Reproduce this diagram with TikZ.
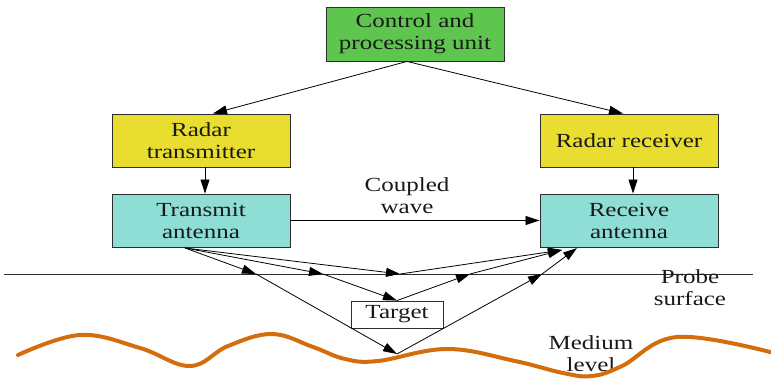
\documentclass[tikz,border=0pt]{standalone}
\usepackage{fontspec}
\setmainfont{Liberation Serif}[FakeStretch=1.25]
\usetikzlibrary{arrows.meta}
\definecolor{ctrlgreen}{RGB}{94,198,78}
\definecolor{unityellow}{RGB}{233,222,48}
\definecolor{antcyan}{RGB}{143,222,214}
\definecolor{mediumorange}{RGB}{212,110,12}
\definecolor{inkgray}{RGB}{45,45,45}
\begin{document}
\begin{tikzpicture}[x=1pt,y=-1pt,
  txt/.style={font=\fontsize{20}{22}\selectfont, text=black!90},
  box/.style={txt, draw=inkgray, line width=0.9pt, minimum width=178pt,
    minimum height=53pt, inner sep=0pt, align=center},
  lbl/.style={txt, align=center, inner sep=0pt},
  link/.style={draw=black, line width=0.8pt, -{Triangle[length=14pt,width=9pt]}}
]
\useasboundingbox (0,0) rectangle (771,379);

% blocks
\node[box, fill=ctrlgreen, minimum height=54pt] (ctrl) at (415,34) {Control and\\processing unit};
\node[box, fill=unityellow] (tx)  at (201,140.5) {Radar\\transmitter};
\node[box, fill=antcyan]    (txa) at (201,220.5) {Transmit\\antenna};
\node[box, fill=unityellow] (rx)  at (629,140.5) {Radar receiver};
\node[box, fill=antcyan]    (rxa) at (629,220.5) {Receive\\antenna};

% control links
\draw[link] ([xshift=-8pt]ctrl.south) -- ([xshift=12pt]tx.north);
\draw[link] ([xshift=-8pt]ctrl.south) -- ([xshift=-6pt]rx.north);
\draw[link] ([xshift=4pt]tx.south) -- ([xshift=4pt]txa.north);
\draw[link] ([xshift=4pt]rx.south) -- ([xshift=4pt]rxa.north);

% direct coupling
\draw[link] (txa.east) -- (rxa.west);
\node[lbl] (coupled) at (407,196) {Coupled\\wave};

% probe surface
\coordinate (pl) at (4,274);
\coordinate (pr) at (753,274);
\draw[inkgray, line width=0.9pt] (pl) -- (pr);
\node[lbl] (probe) at (690,287.5) {Probe\\surface};

% target
\node[txt, draw=inkgray, fill=white, line width=0.9pt, minimum width=92pt,
  minimum height=27pt, inner sep=0pt] (target) at (397,314.5) {Target};

% ray points
\coordinate (o)  at (185,248);
\coordinate (s1) at (256,274);
\coordinate (s2) at (323,274);
\coordinate (s0) at (400,274);
\coordinate (s3) at (470,274);
\coordinate (s4) at (542,274);
\coordinate (m)  at (397,354);
\coordinate (r1) at (577,248);
\coordinate (r2) at (562,250);

% wave paths
\draw[link] (o) -- (s1);
\draw[link] (s1) -- (m);
\draw[link] (m) -- (s4);
\draw[link] (s4) -- (r1);
\draw[link] (o) -- (s2);
\draw[link] (s2) -- (target.north);
\draw[link] (target.north) -- (s3);
\draw[link] (s3) -- (r2);
\draw[link] (o) -- (s0);
\draw[link] (s0) -- (r2);

% medium
\node[lbl] (medium) at (591,354) {Medium\\level};
\draw[mediumorange, line width=4pt, line cap=round]
  plot[smooth, tension=0.65] coordinates {(18,355) (80,335) (140,348) (190,366)
   (228,346) (272,334) (313,347) (345,359) (378,361) (447,349)
   (515,361) (563,373) (592,376) (622,366) (677,337) (770,352)};
\end{tikzpicture}
\end{document}
